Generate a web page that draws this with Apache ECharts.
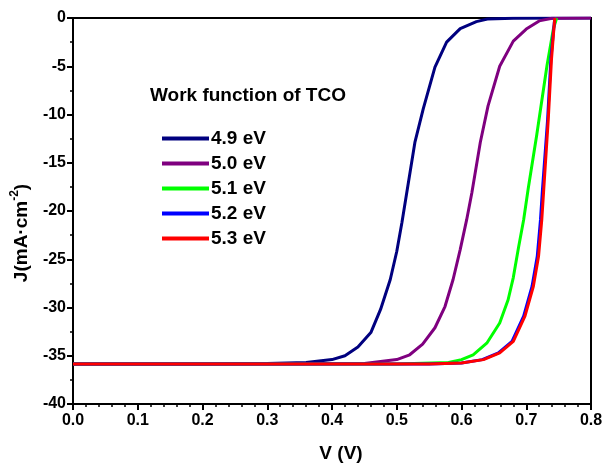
<!DOCTYPE html>
<html>
<head>
<meta charset="utf-8">
<script src="https://cdn.jsdelivr.net/npm/echarts@6/dist/echarts.min.js"></script>
<style>
html,body{margin:0;padding:0;background:#fff;}
#chart{width:602px;height:467px;}
</style>
</head>
<body>
<div id="chart"></div>
<script>
// Legend names
var seriesNames = ['4.9 eV', '5.0 eV', '5.1 eV', '5.2 eV', '5.3 eV'];
var seriesColors = ['#00007f', '#7f007f', '#00ff00', '#0000ff', '#ff0000'];
var xTicks = [0, 0.1, 0.2, 0.3, 0.4, 0.5, 0.6, 0.7, 0.8];
var yTicks = [-40, -35, -30, -25, -20, -15, -10, -5, 0];

// [V, J] pairs
var wf49 = [[0,-35.85],[0.1,-35.85],[0.2,-35.85],[0.3,-35.8],[0.36,-35.7],[0.40,-35.4],[0.42,-35.0],[0.44,-34.1],[0.46,-32.6],[0.475,-30.2],[0.49,-27.1],[0.50,-24.2],[0.508,-21.2],[0.515,-18.3],[0.528,-12.9],[0.541,-9.4],[0.559,-5.1],[0.577,-2.5],[0.598,-1.1],[0.623,-0.38],[0.64,-0.1],[0.68,-0.02],[0.8,0]];
var wf50 = [[0,-35.85],[0.3,-35.85],[0.45,-35.8],[0.50,-35.4],[0.52,-34.9],[0.54,-33.8],[0.559,-32.1],[0.5745,-29.9],[0.587,-27.1],[0.598,-24.0],[0.608,-20.9],[0.616,-18.1],[0.629,-12.9],[0.641,-9.1],[0.659,-5.0],[0.68,-2.4],[0.70,-1.15],[0.72,-0.3],[0.74,-0.02],[0.8,0]];
var wf51 = [[0,-35.85],[0.5,-35.85],[0.58,-35.7],[0.60,-35.4],[0.618,-34.9],[0.639,-33.7],[0.659,-31.6],[0.672,-29.2],[0.68,-26.9],[0.688,-23.8],[0.696,-20.9],[0.703,-17.7],[0.716,-12.2],[0.732,-4.95],[0.742,-1.1],[0.747,0]];
var wf52 = [[0,-35.85],[0.55,-35.85],[0.60,-35.75],[0.632,-35.4],[0.657,-34.7],[0.678,-33.5],[0.696,-30.9],[0.709,-27.8],[0.717,-24.7],[0.722,-20.9],[0.725,-17.8],[0.733,-10.5],[0.738,-4.25],[0.744,0]];
var wf53 = [[0,-35.85],[0.55,-35.85],[0.60,-35.75],[0.634,-35.4],[0.659,-34.7],[0.68,-33.5],[0.698,-30.9],[0.711,-27.8],[0.719,-24.7],[0.724,-20.9],[0.727,-17.8],[0.734,-10.5],[0.739,-4.25],[0.744,0]];

var allData = [wf49, wf50, wf51, wf52, wf53];
var FONT = '"Liberation Sans", Arial, sans-serif';

var chart = echarts.init(document.getElementById('chart'), null, {renderer: 'canvas'});
var series = allData.map(function (d, i) {
  return {
    name: seriesNames[i],
    type: 'line',
    data: d,
    showSymbol: false,
    symbol: 'none',
    lineStyle: {color: seriesColors[i], width: 3},
    itemStyle: {color: seriesColors[i]},
    z: 2 + i
  };
});

chart.setOption({
  animation: false,
  backgroundColor: '#fff',
  grid: {left: 73, right: 11, top: 18, bottom: 63, outerBoundsMode: 'none', containLabel: false,
    show: true, borderColor: '#000', borderWidth: 2, backgroundColor: 'transparent'},
  graphic: [{
    type: 'text', left: 150, top: 86,
    style: {text: 'Work function of TCO', font: 'bold 19px ' + FONT, fill: '#000'}
  }],
  legend: {
    orient: 'vertical', left: 157, top: 124,
    itemWidth: 47, itemHeight: 4, itemGap: 6,
    icon: 'rect',
    data: seriesNames,
    textStyle: {fontSize: 19, fontWeight: 'bold', color: '#000', fontFamily: FONT, padding: [0,0,0,-3]}
  },
  xAxis: {
    type: 'value', min: 0, max: 0.8, interval: 0.1,
    name: 'V (V)', nameLocation: 'middle', nameGap: 40,
    nameTextStyle: {fontSize: 19, fontWeight: 'bold', color: '#000', fontFamily: FONT, padding: [0,0,0,18]},
    axisLine: {show: true, onZero: false, lineStyle: {color: '#000', width: 2}},
    axisTick: {show: true, inside: false, length: 6, lineStyle: {color: '#000', width: 2}},
    minorTick: {show: true, splitNumber: 5, length: 3, lineStyle: {color: '#000', width: 1.5}},
    splitLine: {show: false},
    axisLabel: {margin: 9, fontSize: 16, fontWeight: 'bold', color: '#000', fontFamily: FONT,
      formatter: function (v) { return v.toFixed(1); }}
  },
  yAxis: {
    type: 'value', min: -40, max: 0, interval: 5,
    name: '{a|J(mA·cm}{s|-2}{a|)}', nameLocation: 'middle', nameGap: 42, nameRotate: 90,
    nameTextStyle: {
      padding: [0, 44, 0, 0],
      rich: {
        a: {fontSize: 19, fontWeight: 'bold', color: '#000', fontFamily: FONT, lineHeight: 22, verticalAlign: 'bottom'},
        s: {fontSize: 12, fontWeight: 'bold', color: '#000', fontFamily: FONT, lineHeight: 22, verticalAlign: 'top'}
      }
    },
    axisLine: {show: true, onZero: false, lineStyle: {color: '#000', width: 2}},
    axisTick: {show: true, inside: false, length: 6, lineStyle: {color: '#000', width: 2}},
    minorTick: {show: true, splitNumber: 2, length: 3, lineStyle: {color: '#000', width: 1.5}},
    splitLine: {show: false},
    axisLabel: {margin: 7, fontSize: 16, fontWeight: 'bold', color: '#000', fontFamily: FONT}
  },
  series: series
});
</script>
</body>
</html>
